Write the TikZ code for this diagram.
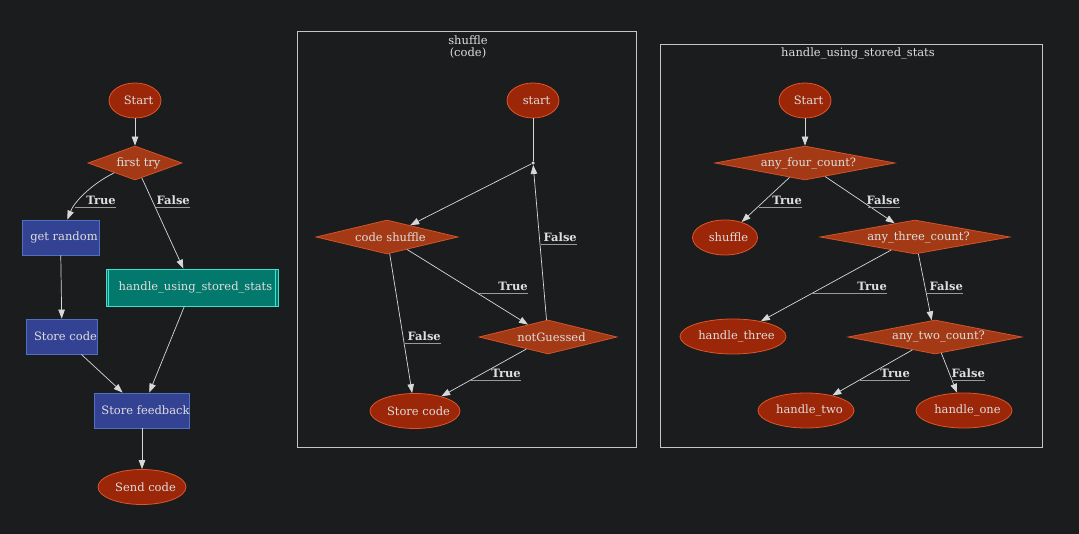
\documentclass[tikz,border=0pt]{standalone}
\usepackage{fontspec}
\setmainfont{DejaVu Serif}
\usetikzlibrary{shapes.geometric,arrows.meta}
\definecolor{bgcol}{HTML}{1A1C1E}
\definecolor{txtcol}{HTML}{DEDEDE}
\definecolor{edgecol}{HTML}{D8D8D8}
\definecolor{ulcol}{HTML}{9A9A9A}
\definecolor{termfill}{HTML}{9B2608}
\definecolor{termdraw}{HTML}{E0552B}
\definecolor{decfill}{HTML}{A33A15}
\definecolor{decdraw}{HTML}{D4522A}
\definecolor{procfill}{HTML}{344294}
\definecolor{procdraw}{HTML}{5071C0}
\definecolor{subfill}{HTML}{03786C}
\definecolor{subdraw}{HTML}{40E0D0}
\definecolor{clustdraw}{HTML}{C4C4C4}
\tikzset{
  shapetext/.style={text=txtcol, line width=0.8pt, execute at begin node={\hspace*{7pt}}},
  terminal/.style={ellipse, draw=termdraw, fill=termfill, shapetext, inner sep=-5pt, minimum height=35pt, minimum width=#1},
  decision/.style={diamond, draw=decdraw, fill=decfill, shapetext, inner sep=0pt, shape aspect=5.5, minimum height=34pt, minimum width=#1},
  process/.style={rectangle, draw=procdraw, fill=procfill, shapetext, inner sep=0pt, minimum height=35pt, minimum width=#1},
  subproc/.style={rectangle, draw=subdraw, fill=subfill, shapetext, inner sep=0pt, minimum height=37pt, minimum width=#1},
  joint/.style={circle, fill=edgecol, inner sep=0pt, minimum size=3.5pt},
  edge/.style={draw=edgecol, line width=0.7pt, -{Triangle[length=9pt,width=6.5pt]}},
  elabel/.style={anchor=south east, text=txtcol, font=\bfseries, inner xsep=0pt, inner ysep=2.5pt},
  uline/.style={draw=ulcol, line width=0.9pt},
  cluster/.style={draw=clustdraw, line width=0.9pt},
  ctitle/.style={text=txtcol, align=center, inner sep=0pt}
}

\begin{document}
\fontsize{11.5}{12}\selectfont
\begin{tikzpicture}[x=1pt,y=-1pt]
\fill[bgcol] (0,0) rectangle (1079,534);

%main flow
\node[terminal=52]  (st)  at (135,100.5) {Start};
\node[decision=94, shape aspect=2.6] (ft) at (135,163) {first try};
\node[process=77]   (gr)  at (60.5,237.5) {get random};
\node[subproc=172]  (hus) at (192,287.5) {handle\_using\_stored\_stats};
\node[process=71]   (sc)  at (62,336.5) {Store code};
\node[process=94]   (sf)  at (142,410.5) {Store feedback};
\node[terminal=88]  (snd) at (142,487) {Send code};
\draw[subdraw, line width=0.8pt] ([xshift=3pt]hus.north west) -- ([xshift=3pt]hus.south west);
\draw[subdraw, line width=0.8pt] ([xshift=-3pt]hus.north east) -- ([xshift=-3pt]hus.south east);

\draw[edge] (st) -- (ft);
\draw[edge] (ft) .. controls (95,182) and (75,200) .. (gr);
\draw[edge] (ft) -- (hus);
\draw[edge] (gr) -- (sc);
\draw[edge] (sc) -- (sf);
\draw[edge] (hus) -- (sf);
\draw[edge] (sf) -- (snd);

\node[elabel] (l1) at (116,207) {True};   \draw[uline] (l1.south east) -- ++(-41,0);
\node[elabel] (l2) at (190,207) {False};  \draw[uline] (l2.south east) -- ++(-34,0);

%cluster shuffle
\draw[cluster] (297,31) rectangle (636,447);
\node[ctitle] (t1) at (468,47.5) {shuffle\\(code)};
\node[terminal=52]  (sst) at (533,100.5) {start};
\node[joint]        (pt)  at (533,163) {};
\node[decision=142] (cs)  at (387,237) {code shuffle};
\node[decision=138] (ng)  at (548,337) {notGuessed};
\node[terminal=90]  (ssc) at (415,411) {Store code};

\draw[draw=edgecol, line width=0.6pt] (sst) -- (pt);
\draw[edge] (pt) -- (cs);
\draw[edge] (cs) -- (ng);
\draw[edge] (cs) -- (ssc);
\draw[edge] (ng) -- (pt);
\draw[edge] (ng) -- (ssc);

\node[elabel] (l3) at (528,293) {True};   \draw[uline] (l3.south east) -- ++(-51,0);
\node[elabel] (l4) at (441,343) {False};  \draw[uline] (l4.south east) -- ++(-36,0);
\node[elabel] (l5) at (577,244) {False};  \draw[uline] (l5.south east) -- ++(-36,0);
\node[elabel] (l6) at (521,380) {True};   \draw[uline] (l6.south east) -- ++(-51,0);

%cluster handle_using_stored_stats
\draw[cluster] (660,44) rectangle (1042,447);
\node[ctitle] (t2) at (858,53.5) {handle\_using\_stored\_stats};
\node[terminal=52]  (hst) at (805,100.5) {Start};
\node[decision=180] (a4)  at (805,163) {any\_four\_count?};
\node[terminal=65]  (shf) at (725,237.5) {shuffle};
\node[decision=190] (a3)  at (915,237) {any\_three\_count?};
\node[terminal=106] (h3)  at (733,336.5) {handle\_three};
\node[decision=174] (a2)  at (935,337) {any\_two\_count?};
\node[terminal=96]  (h2)  at (806,410.5) {handle\_two};
\node[terminal=96]  (h1)  at (964,410.5) {handle\_one};

\draw[edge] (hst) -- (a4);
\draw[edge] (a4) -- (shf);
\draw[edge] (a4) -- (a3);
\draw[edge] (a3) -- (h3);
\draw[edge] (a3) -- (a2);
\draw[edge] (a2) -- (h2);
\draw[edge] (a2) -- (h1);

\node[elabel] (l7)  at (802,207) {True};  \draw[uline] (l7.south east) -- ++(-43,0);
\node[elabel] (l8)  at (900,207) {False}; \draw[uline] (l8.south east) -- ++(-32,0);
\node[elabel] (l9)  at (887,293) {True};  \draw[uline] (l9.south east) -- ++(-76,0);
\node[elabel] (l10) at (963,293) {False}; \draw[uline] (l10.south east) -- ++(-36,0);
\node[elabel] (l11) at (910,380) {True};  \draw[uline] (l11.south east) -- ++(-50,0);
\node[elabel] (l12) at (985,380) {False}; \draw[uline] (l12.south east) -- ++(-32,0);
\end{tikzpicture}
\end{document}
